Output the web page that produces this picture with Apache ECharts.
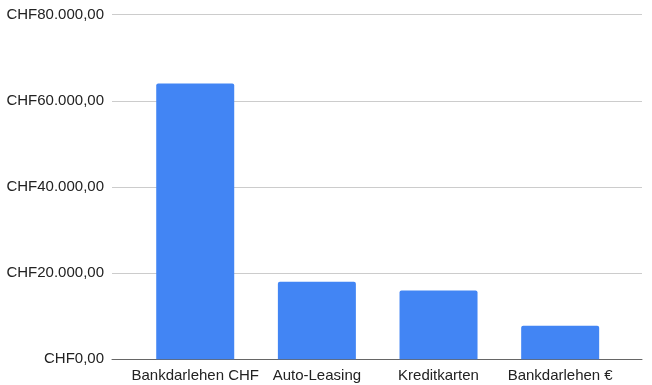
<!DOCTYPE html>
<html><head><meta charset="utf-8">
<script src="https://cdn.jsdelivr.net/npm/echarts@6/dist/echarts.min.js"></script>
<style>html,body{margin:0;padding:0;background:#fff}#c{width:652px;height:385px}</style>
</head><body><div id="c"></div>
<script>
const categories = ['Bankdarlehen CHF', 'Auto-Leasing', 'Kreditkarten', 'Bankdarlehen €'];
const values = [64000, 18000, 16000, 7800];
const yTicks = [0, 20000, 40000, 60000, 80000];

function fmt(v) {
  const s = String(Math.round(v)).replace(/\B(?=(\d{3})+(?!\d))/g, '.');
  return 'CHF' + s + ',00';
}
const yMax = yTicks[yTicks.length - 1];
const yStep = yTicks[1] - yTicks[0];
const font = 'Liberation Sans, Arial, sans-serif';

const chart = echarts.init(document.getElementById('c'), null, {renderer: 'canvas'});
chart.setOption({
  animation: false,
  backgroundColor: '#fff',
  grid: [
    {left: 112, right: 10, top: 14.7, bottom: 25.7},
    {left: 134.4, right: 31, top: 14.7, bottom: 25.7}
  ],
  xAxis: [
    {gridIndex: 0, type: 'category', data: [''], axisLine: {show: true, lineStyle: {color: '#666', width: 1}},
     axisTick: {show: false}, axisLabel: {show: false}, splitLine: {show: false}},
    {gridIndex: 1, type: 'category', data: categories, axisLine: {show: false}, axisTick: {show: false},
     axisLabel: {color: '#222', fontSize: 15, fontFamily: font, margin: 9, interval: 0}}
  ],
  yAxis: [
    {gridIndex: 0, type: 'value', min: 0, max: yMax, interval: yStep,
     axisLine: {show: false}, axisTick: {show: false},
     axisLabel: {formatter: fmt, color: '#222', fontSize: 15, fontFamily: font, margin: 8},
     splitLine: {show: true, lineStyle: {color: '#ccc', width: 1}}},
    {gridIndex: 1, type: 'value', min: 0, max: yMax, interval: yStep, show: false}
  ],
  series: [{
    type: 'bar', xAxisIndex: 1, yAxisIndex: 1, data: values, barWidth: 78,
    itemStyle: {color: '#4285F4', borderRadius: [2, 2, 0, 0]}
  }]
});
</script></body></html>
